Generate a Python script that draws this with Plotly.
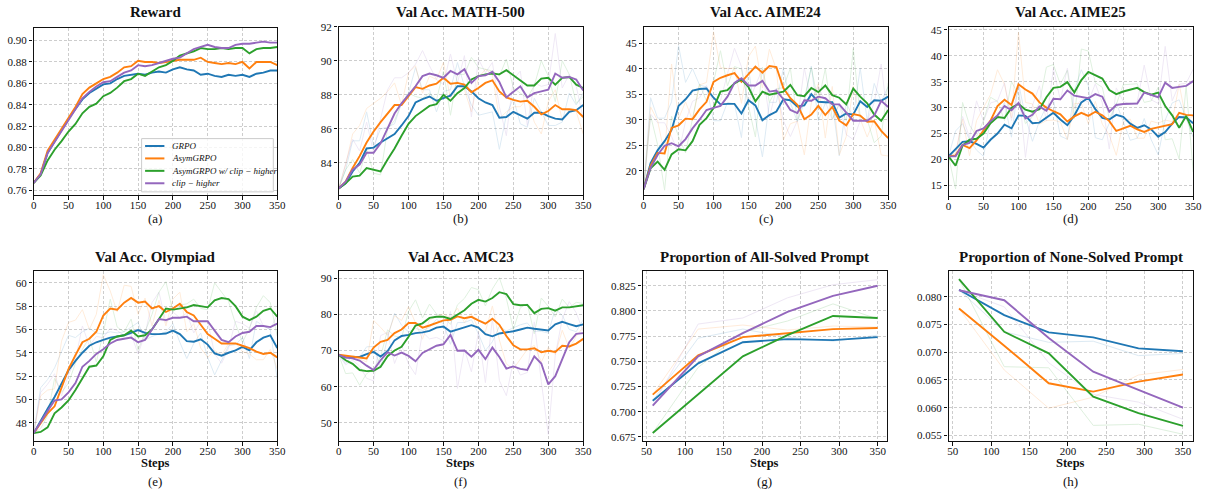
import plotly.graph_objects as go

# ---------------- data ----------------
steps = list(range(0, 351, 10))
prompt_steps = [58, 117, 175, 233, 292, 350]

names = ["GRPO", "AsymGRPO", "AsymGRPO w/ clip − higher", "clip − higher"]
colors = ["#1f77b4", "#ff7f0e", "#2ca02c", "#9467bd"]

# Reward (smoothed)
reward_grpo = [0.767, 0.775, 0.795, 0.806, 0.817, 0.827, 0.836, 0.845, 0.851, 0.855, 0.859, 0.860,
               0.864, 0.867, 0.868, 0.869, 0.868, 0.870, 0.871, 0.870, 0.873, 0.875, 0.873, 0.872,
               0.868, 0.869, 0.867, 0.866, 0.868, 0.867, 0.868, 0.866, 0.869, 0.870, 0.872, 0.872]
reward_asym = [0.767, 0.776, 0.797, 0.807, 0.817, 0.828, 0.838, 0.850, 0.856, 0.860, 0.864, 0.866,
               0.870, 0.875, 0.876, 0.881, 0.880, 0.880, 0.879, 0.880, 0.881, 0.882, 0.882, 0.882,
               0.884, 0.880, 0.879, 0.878, 0.879, 0.878, 0.880, 0.874, 0.880, 0.880, 0.880, 0.877]
reward_asym_clip = [0.767, 0.774, 0.788, 0.798, 0.806, 0.815, 0.822, 0.832, 0.838, 0.841, 0.848, 0.851,
                    0.856, 0.862, 0.864, 0.869, 0.867, 0.871, 0.875, 0.877, 0.881, 0.886, 0.888, 0.890,
                    0.893, 0.892, 0.892, 0.893, 0.892, 0.893, 0.893, 0.888, 0.892, 0.893, 0.893, 0.894]
reward_clip = [0.767, 0.775, 0.795, 0.805, 0.815, 0.826, 0.836, 0.846, 0.852, 0.857, 0.861, 0.862,
               0.866, 0.870, 0.872, 0.877, 0.876, 0.877, 0.879, 0.881, 0.883, 0.884, 0.888, 0.892,
               0.894, 0.896, 0.894, 0.893, 0.893, 0.896, 0.897, 0.897, 0.898, 0.899, 0.898, 0.898]

# MATH-500
math_grpo = [82.5, 82.8, 83.5, 84.0, 84.85, 84.9, 85.2, 85.45, 85.7, 86.2, 86.75, 87.55,
             87.75, 87.9, 87.65, 87.8, 87.95, 88.5, 88.5, 88.2, 87.8, 87.55, 87.4, 86.65,
             86.7, 87.0, 86.8, 86.6, 86.95, 86.95, 86.75, 86.6, 86.55, 87.0, 87.1, 87.4]
math_grpo_raw = [82.5, 83.6, 85.3, 85.3, 87.0, 85.0, 86.0, 86.1, 86.3, 87.5, 88.1, 89.6,
                 88.3, 88.3, 87.0, 88.2, 88.3, 89.9, 88.5, 87.4, 86.8, 86.9, 87.0, 84.8,
                 86.8, 87.8, 86.3, 86.1, 87.8, 87.0, 86.2, 86.2, 86.4, 88.1, 87.4, 88.1]
math_asym = [82.5, 82.9, 83.7, 84.4, 85.2, 85.85, 86.4, 86.9, 87.4, 87.4, 87.95, 88.45,
             88.35, 88.55, 88.65, 89.0, 88.65, 88.7, 88.6, 88.15, 88.4, 88.7, 88.85, 88.2,
             87.85, 87.7, 87.6, 87.65, 87.3, 86.85, 87.05, 87.4, 87.15, 87.15, 87.1, 86.7]
math_asym_raw = [82.5, 83.9, 85.7, 86.2, 87.2, 87.5, 87.8, 88.2, 88.7, 87.4, 89.3, 89.7,
                 88.1, 89.1, 88.9, 89.9, 87.8, 88.8, 88.3, 87.0, 89.0, 89.5, 89.2, 86.6,
                 87.0, 87.3, 87.3, 87.8, 86.4, 85.7, 87.6, 88.3, 86.5, 87.15, 87.0, 85.7]
math_asym_clip = [82.5, 82.8, 83.2, 83.25, 83.7, 83.6, 83.5, 84.2, 84.85, 85.6, 86.3, 86.75,
                  87.05, 87.35, 87.45, 88.0, 87.65, 88.1, 88.4, 88.9, 89.1, 89.2, 89.25, 89.2,
                  89.45, 89.15, 88.85, 88.55, 88.55, 88.95, 89.0, 88.6, 89.0, 89.05, 88.6, 88.4]
math_asym_clip_raw = [82.5, 83.6, 84.2, 83.4, 84.8, 83.4, 83.3, 86.0, 86.5, 87.5, 88.1, 87.9,
                      87.8, 88.1, 87.7, 89.4, 86.8, 89.2, 89.2, 90.2, 89.6, 89.5, 89.4, 89.1,
                      90.1, 88.4, 88.1, 87.8, 88.55, 90.0, 89.1, 87.6, 90.0, 89.2, 87.5, 87.9]
math_clip = [82.5, 82.9, 83.6, 83.9, 84.6, 84.6, 85.15, 86.05, 86.9, 87.5, 88.0, 88.5,
             89.1, 89.25, 89.15, 89.0, 89.4, 89.2, 89.5, 88.7, 89.1, 89.15, 89.35, 88.75,
             87.85, 88.15, 88.5, 87.85, 88.1, 88.2, 88.3, 89.25, 89.0, 89.05, 88.9, 88.25]
math_clip_raw = [82.5, 83.9, 85.4, 84.7, 86.4, 84.6, 86.6, 88.3, 89.0, 89.0, 89.3, 89.8,
                 90.6, 89.7, 88.9, 88.6, 90.4, 88.7, 90.3, 86.7, 90.1, 89.3, 89.9, 87.3,
                 85.6, 88.9, 89.4, 86.2, 88.7, 88.5, 88.6, 91.6, 88.4, 89.2, 88.5, 86.6]

# AIME24
aime24_grpo = [16.4, 21.5, 24.0, 25.8, 28.0, 32.7, 34.0, 35.7, 36.0, 36.1, 34.3, 33.0,
               33.1, 33.1, 31.2, 33.8, 32.8, 29.9, 30.9, 31.6, 34.0, 33.8, 32.6, 32.8,
               35.0, 33.5, 33.4, 33.4, 30.4, 31.2, 31.0, 33.6, 32.5, 33.8, 33.7, 34.5]
aime24_grpo_raw = [16.4, 34.3, 30.3, 30.3, 33.5, 44.5, 37.3, 40.0, 36.8, 36.4, 29.8, 29.8,
                   33.4, 33.1, 26.5, 40.3, 30.3, 22.7, 33.4, 33.4, 40.0, 33.3, 29.6, 33.3,
                   40.5, 29.8, 33.2, 33.4, 22.9, 33.2, 30.5, 40.1, 29.8, 37.1, 33.5, 36.5]
aime24_asym = [16.4, 21.0, 23.5, 23.4, 28.4, 28.9, 30.2, 30.1, 32.0, 33.5, 37.4, 38.2,
               38.7, 39.1, 37.4, 38.8, 40.4, 39.2, 40.5, 40.3, 36.2, 34.2, 32.9, 30.1,
               31.0, 32.7, 30.9, 32.5, 29.8, 28.9, 31.1, 30.8, 29.6, 29.7, 27.8, 26.4]
aime24_asym_raw = [16.4, 32.5, 29.8, 23.2, 40.9, 30.2, 33.5, 29.9, 36.8, 37.3, 47.2, 40.2,
                   40.0, 40.1, 33.2, 42.3, 44.4, 36.2, 43.8, 39.8, 26.0, 29.2, 29.7, 23.1,
                   33.3, 37.0, 26.4, 36.5, 23.1, 26.7, 36.6, 30.1, 26.6, 30.0, 23.1, 22.9]
aime24_asym_clip = [16.4, 20.5, 21.8, 20.2, 23.2, 24.2, 24.0, 25.8, 29.0, 30.3, 32.3, 35.5,
                    35.8, 37.1, 37.9, 36.4, 33.6, 35.5, 34.9, 35.2, 35.5, 36.8, 34.8, 34.6,
                    36.2, 35.4, 36.7, 34.8, 34.3, 33.0, 36.1, 34.5, 33.2, 31.0, 29.8, 31.9]
aime24_asym_clip_raw = [16.4, 30.8, 25.1, 16.2, 30.7, 26.7, 23.5, 30.3, 37.0, 33.6, 37.3, 43.5,
                        36.6, 40.4, 39.9, 32.7, 26.6, 40.3, 33.4, 36.0, 36.3, 40.1, 29.8, 34.1,
                        40.2, 33.4, 40.0, 30.1, 33.1, 29.8, 43.9, 30.5, 30.0, 25.5, 26.8, 37.2]
aime24_clip = [16.4, 20.6, 23.1, 24.9, 25.4, 24.8, 26.2, 28.3, 30.0, 31.9, 32.3, 32.7,
               34.5, 37.2, 38.1, 36.7, 36.7, 37.6, 35.5, 35.7, 34.0, 31.9, 31.3, 33.8,
               33.7, 34.5, 34.2, 33.0, 33.0, 31.3, 29.8, 29.8, 29.8, 30.8, 33.7, 32.5]
aime24_clip_raw = [16.4, 31.1, 29.4, 29.4, 26.7, 23.3, 29.7, 33.6, 34.3, 36.7, 33.3, 33.7,
                   39.0, 44.0, 40.4, 33.2, 36.7, 39.9, 30.3, 36.2, 29.8, 26.7, 29.8, 40.1,
                   33.5, 36.5, 33.5, 30.0, 33.0, 27.1, 26.1, 29.8, 29.8, 33.3, 40.9, 29.5]

# AIME25
aime25_grpo = [20.6, 22.0, 23.4, 23.5, 23.0, 22.3, 23.8, 25.0, 26.7, 26.0, 28.5, 28.4,
               27.0, 27.1, 28.0, 29.0, 27.7, 26.6, 28.5, 31.0, 31.9, 29.7, 28.0, 27.7,
               28.6, 28.2, 26.9, 26.1, 26.6, 25.8, 24.4, 25.3, 26.9, 28.2, 28.1, 27.0]
aime25_grpo_raw = [20.6, 25.5, 26.9, 23.8, 21.8, 20.6, 27.6, 28.0, 31.0, 24.3, 34.8, 28.2,
                   23.5, 27.4, 30.3, 31.5, 24.5, 23.9, 33.3, 37.3, 34.2, 24.2, 23.8, 27.0,
                   30.9, 27.2, 23.7, 24.1, 27.9, 23.8, 20.9, 27.6, 30.9, 31.5, 27.9, 24.3]
aime25_asym = [20.6, 20.8, 22.8, 22.2, 23.7, 25.5, 27.5, 30.3, 31.5, 30.5, 34.5, 33.5,
               32.7, 31.0, 30.0, 29.3, 28.7, 27.3, 28.3, 29.0, 28.4, 29.2, 28.5, 27.4,
               25.5, 26.0, 26.5, 25.8, 25.3, 25.9, 26.2, 26.6, 26.8, 29.0, 28.6, 28.5]
aime25_asym_raw = [20.6, 21.3, 27.8, 20.7, 27.5, 30.0, 32.5, 37.3, 34.5, 28.0, 44.5, 31.0,
                   30.7, 26.8, 27.5, 27.6, 27.2, 23.8, 30.8, 30.8, 26.9, 31.2, 26.8, 24.7,
                   20.8, 27.3, 27.8, 24.1, 24.1, 27.4, 27.0, 27.6, 27.3, 34.5, 27.6, 28.3]
aime25_asym_clip = [20.6, 18.8, 22.7, 23.8, 24.0, 25.0, 27.0, 28.2, 28.0, 30.0, 30.7, 29.6,
                    29.2, 29.7, 32.0, 33.8, 34.0, 34.9, 32.9, 35.3, 36.9, 36.3, 35.6, 33.4,
                    32.6, 33.1, 33.5, 33.8, 33.0, 32.5, 32.9, 30.3, 28.5, 26.1, 28.4, 25.3]
aime25_asym_clip_raw = [20.6, 14.3, 31.0, 26.6, 24.5, 27.5, 32.0, 31.2, 27.5, 35.0, 32.5, 26.9,
                        28.2, 31.0, 37.8, 38.3, 34.5, 37.2, 27.9, 41.3, 40.9, 34.8, 33.9, 27.9,
                        30.6, 34.4, 34.5, 34.6, 31.0, 31.3, 33.9, 23.8, 24.0, 20.1, 34.2, 17.6]
aime25_clip = [20.6, 20.6, 22.8, 23.2, 25.5, 26.0, 27.4, 28.5, 30.3, 29.5, 30.9, 27.9,
               28.6, 30.2, 29.4, 31.7, 31.6, 33.3, 32.3, 32.1, 31.8, 32.6, 32.1, 29.2,
               30.5, 30.7, 30.7, 30.8, 32.9, 32.5, 32.0, 34.8, 33.8, 34.0, 34.2, 35.1]
aime25_clip_raw = [20.6, 20.6, 28.3, 24.2, 31.3, 27.3, 30.9, 31.3, 34.8, 27.5, 34.4, 20.4,
                   30.4, 34.2, 27.4, 37.5, 31.4, 37.6, 29.8, 31.6, 31.1, 34.6, 30.9, 22.0,
                   33.8, 31.2, 30.7, 31.1, 38.2, 31.5, 30.8, 41.8, 31.3, 34.5, 34.7, 37.4]

# Olympiad
olym_grpo = [47.1, 48.2, 49.2, 50.2, 51.3, 52.5, 53.3, 54.0, 54.6, 54.9, 55.1, 55.3,
             55.4, 55.5, 55.7, 55.95, 55.7, 55.6, 55.6, 55.65, 55.9, 55.6, 55.0, 54.95,
             55.15, 54.7, 53.95, 53.75, 54.0, 54.2, 54.5, 54.2, 54.9, 55.3, 55.5, 54.4]
olym_grpo_raw = [47.1, 51.0, 51.7, 52.7, 54.1, 55.5, 55.3, 55.8, 56.1, 55.7, 55.6, 55.8,
                 55.7, 55.8, 56.2, 56.6, 55.1, 55.4, 55.6, 55.8, 56.5, 54.9, 53.5, 54.8,
                 55.7, 53.6, 52.1, 53.3, 54.6, 54.7, 55.3, 53.5, 56.7, 56.3, 56.0, 51.7]
olym_asym = [47.1, 48.0, 48.8, 49.4, 51.0, 52.6, 53.8, 54.9, 55.2, 55.8, 57.2, 57.8,
             57.7, 58.3, 58.7, 58.3, 58.4, 57.8, 58.0, 57.5, 57.8, 58.2, 57.5, 57.2,
             56.4, 55.6, 55.2, 54.8, 54.8, 54.8, 54.6, 54.4, 54.1, 53.9, 54.0, 53.6]
olym_asym_raw = [47.1, 50.3, 50.8, 50.9, 55.0, 56.6, 56.8, 57.7, 56.0, 57.3, 60.7, 59.3,
                 57.5, 59.8, 59.7, 57.3, 58.7, 56.3, 58.5, 56.3, 58.6, 59.2, 55.8, 56.5,
                 54.4, 53.6, 54.2, 53.8, 54.8, 54.8, 54.1, 53.9, 53.4, 53.4, 54.3, 52.6]
olym_asym_clip = [47.1, 47.2, 47.6, 48.8, 49.3, 49.9, 50.8, 51.8, 52.8, 52.9, 53.7, 55.1,
                  55.4, 55.5, 55.9, 55.4, 55.5, 56.0, 56.9, 57.8, 57.7, 57.8, 57.9, 58.1,
                  58.0, 57.9, 58.5, 58.7, 58.6, 58.0, 57.1, 56.8, 57.1, 57.6, 57.8, 57.1]
olym_asym_clip_raw = [47.1, 47.5, 48.6, 51.8, 50.6, 51.4, 53.1, 54.3, 55.3, 53.2, 55.7, 58.6,
                      56.2, 55.8, 56.9, 54.2, 55.8, 57.3, 59.2, 60.1, 57.5, 58.1, 58.2, 58.6,
                      57.8, 57.7, 60.0, 59.2, 58.4, 56.5, 54.9, 56.1, 57.9, 58.9, 58.3, 55.4]
olym_clip = [47.1, 48.1, 49.0, 49.9, 50.0, 50.6, 51.4, 52.8, 53.3, 53.9, 54.3, 54.8,
             55.1, 55.2, 55.3, 54.9, 55.1, 56.0, 56.9, 56.8, 57.0, 57.0, 57.1, 56.7,
             56.7, 56.7, 55.9, 55.1, 54.9, 55.4, 55.7, 55.8, 56.3, 56.3, 56.2, 56.5]
olym_clip_raw = [47.1, 50.6, 51.3, 52.2, 50.3, 52.1, 53.4, 56.3, 54.6, 55.4, 55.3, 56.1,
                 55.9, 55.5, 55.6, 53.9, 55.6, 58.3, 59.2, 56.6, 57.5, 57.0, 57.4, 55.7,
                 56.7, 56.7, 53.9, 53.1, 54.4, 56.7, 56.5, 56.1, 57.6, 56.3, 56.0, 57.3]

# AMC23
amc_grpo = [68.8, 68.1, 68.2, 68.2, 69.0, 69.6, 68.3, 69.8, 72.8, 74.0, 74.3, 74.8,
            75.0, 75.4, 76.3, 76.6, 75.2, 75.9, 76.4, 77.0, 76.3, 74.5, 73.9, 74.7,
            74.9, 75.3, 75.8, 76.3, 76.0, 75.8, 75.5, 77.2, 77.9, 77.3, 76.7, 77.2]
amc_grpo_raw = [68.8, 66.4, 68.5, 68.2, 71.0, 71.1, 65.1, 73.6, 80.3, 77.0, 75.1, 76.1,
                75.5, 76.4, 78.6, 77.4, 71.7, 77.7, 77.7, 78.5, 74.6, 70.0, 72.4, 76.7,
                75.4, 76.3, 77.1, 77.6, 75.3, 75.3, 74.8, 81.5, 79.7, 75.8, 75.2, 78.5]
amc_asym = [68.8, 68.6, 68.4, 68.2, 67.8, 70.8, 72.4, 72.9, 74.8, 75.8, 77.6, 77.6,
            76.3, 76.9, 77.6, 78.3, 78.5, 79.4, 78.9, 79.3, 78.3, 77.4, 78.8, 77.1,
            74.0, 71.4, 70.3, 70.3, 70.6, 69.5, 69.9, 69.6, 71.3, 71.1, 71.9, 73.2]
amc_asym_raw = [68.8, 68.1, 67.9, 67.7, 66.8, 78.3, 76.4, 74.2, 79.6, 78.3, 82.1, 77.6,
                73.1, 78.4, 79.4, 80.1, 79.0, 81.7, 77.7, 80.3, 75.8, 75.2, 82.3, 72.9,
                66.3, 64.9, 67.6, 70.3, 71.4, 66.8, 70.9, 68.9, 75.6, 70.6, 73.9, 76.5]
amc_asym_clip = [68.8, 67.3, 66.3, 64.6, 64.3, 64.4, 65.5, 68.4, 70.0, 71.0, 73.8, 76.9,
                 77.5, 79.0, 79.3, 79.3, 78.7, 79.8, 81.1, 82.9, 84.0, 83.5, 84.5, 86.1,
                 85.6, 82.8, 82.5, 82.6, 80.3, 81.5, 81.7, 81.0, 81.9, 81.9, 82.3, 82.5]
amc_asym_clip_raw = [68.8, 63.6, 63.8, 60.4, 63.6, 64.7, 68.3, 75.7, 74.0, 73.5, 80.8, 84.0,
                     79.0, 82.8, 80.1, 79.3, 77.2, 82.6, 84.4, 87.4, 86.8, 82.3, 87.0, 90.1,
                     84.4, 75.8, 81.8, 82.9, 74.6, 84.5, 82.2, 79.3, 84.2, 81.9, 83.3, 83.0]
amc_clip = [68.8, 68.0, 67.8, 67.2, 65.8, 64.6, 67.3, 69.5, 68.6, 69.4, 68.5, 67.0,
            69.3, 70.4, 71.3, 71.7, 74.3, 69.9, 70.0, 68.3, 70.2, 67.6, 70.8, 68.2,
            65.0, 65.6, 64.9, 64.6, 68.4, 66.4, 60.6, 62.9, 67.4, 72.3, 74.6, 74.8]
amc_clip_raw = [68.8, 66.0, 67.3, 65.7, 62.3, 61.6, 74.1, 75.0, 66.4, 71.4, 66.3, 63.3,
                75.1, 73.2, 73.6, 72.7, 80.8, 59.5, 70.3, 64.1, 75.0, 61.1, 78.8, 61.7,
                57.5, 67.1, 63.2, 63.9, 77.9, 61.4, 46.8, 68.7, 78.7, 83.5, 80.4, 75.3]

# Proportion of All-Solved Prompt
allsolved_grpo = [0.711, 0.748, 0.769, 0.772, 0.771, 0.774]
allsolved_grpo_raw = [0.711, 0.773, 0.782, 0.774, 0.770, 0.776]
allsolved_asym = [0.717, 0.756, 0.774, 0.778, 0.782, 0.783]
allsolved_asym_raw = [0.717, 0.782, 0.786, 0.781, 0.785, 0.784]
allsolved_asym_clip = [0.679, 0.717, 0.755, 0.776, 0.795, 0.793]
allsolved_asym_clip_raw = [0.679, 0.744, 0.779, 0.790, 0.807, 0.792]
allsolved_clip = [0.706, 0.755, 0.778, 0.799, 0.815, 0.825]
allsolved_clip_raw = [0.706, 0.787, 0.793, 0.813, 0.826, 0.831]

# Proportion of None-Solved Prompt
nonesolved_grpo = [0.0813, 0.0767, 0.0736, 0.0727, 0.0707, 0.0702]
nonesolved_grpo_raw = [0.0813, 0.0737, 0.0718, 0.0720, 0.0694, 0.0698]
nonesolved_asym = [0.0779, 0.0712, 0.0644, 0.0629, 0.0647, 0.0660]
nonesolved_asym_raw = [0.0779, 0.0668, 0.0599, 0.0619, 0.0659, 0.0669]
nonesolved_asym_clip = [0.0832, 0.0737, 0.0698, 0.0620, 0.0590, 0.0567]
nonesolved_asym_clip_raw = [0.0832, 0.0674, 0.0672, 0.0568, 0.0570, 0.0552]
nonesolved_clip = [0.0812, 0.0794, 0.0726, 0.0665, 0.0632, 0.0600]
nonesolved_clip_raw = [0.0812, 0.0782, 0.0681, 0.0624, 0.0610, 0.0579]

# tick labels
steps_ticks = [0, 50, 100, 150, 200, 250, 300, 350]
prompt_ticks = [50, 100, 150, 200, 250, 300, 350]
reward_yticks = [0.76, 0.78, 0.80, 0.82, 0.84, 0.86, 0.88, 0.90]
math_yticks = [84, 86, 88, 90, 92]
aime24_yticks = [20, 25, 30, 35, 40, 45]
aime25_yticks = [15, 20, 25, 30, 35, 40, 45]
olym_yticks = [48, 50, 52, 54, 56, 58, 60]
amc_yticks = [50, 60, 70, 80, 90]
allsolved_yticks = [0.675, 0.700, 0.725, 0.750, 0.775, 0.800, 0.825]
nonesolved_yticks = [0.055, 0.060, 0.065, 0.070, 0.075, 0.080]

# ---------------- layout ----------------
W, H = 1217, 497
SERIF = "Liberation Serif, Times New Roman, serif"
INK = "#111111"

panels = [
    dict(title="Reward", label="(a)", xpx=(31, 277), ypx=(22, 192),
         xr=[0, 350], yr=[0.7554, 0.912], xt=steps_ticks, yt=reward_yticks, yf=".2f",
         x=steps, s=[reward_grpo, reward_asym, reward_asym_clip, reward_clip], raw=None),
    dict(title="Val Acc. MATH-500", label="(b)", xpx=(339, 586), ypx=(21, 192),
         xr=[0, 350], yr=[82.1, 92], xt=steps_ticks, yt=math_yticks, yf="d",
         x=steps, s=[math_grpo, math_asym, math_asym_clip, math_clip],
         raw=[math_grpo_raw, math_asym_raw, math_asym_clip_raw, math_clip_raw]),
    dict(title="Val Acc. AIME24", label="(c)", xpx=(647, 894), ypx=(21, 192),
         xr=[0, 350], yr=[15.2, 48.2], xt=steps_ticks, yt=aime24_yticks, yf="d",
         x=steps, s=[aime24_grpo, aime24_asym, aime24_asym_clip, aime24_clip],
         raw=[aime24_grpo_raw, aime24_asym_raw, aime24_asym_clip_raw, aime24_clip_raw]),
    dict(title="Val Acc. AIME25", label="(d)", xpx=(955, 1202), ypx=(21.5, 192.5),
         xr=[0, 350], yr=[13.0, 45.5], xt=steps_ticks, yt=aime25_yticks, yf="d",
         x=steps, s=[aime25_grpo, aime25_asym, aime25_asym_clip, aime25_clip],
         raw=[aime25_grpo_raw, aime25_asym_raw, aime25_asym_clip_raw, aime25_clip_raw]),
    dict(title="Val Acc. Olympiad", label="(e)", xpx=(31, 277), ypx=(269, 441.5),
         xr=[0, 350], yr=[46.4, 61.0], xt=steps_ticks, yt=olym_yticks, yf="d",
         x=steps, s=[olym_grpo, olym_asym, olym_asym_clip, olym_clip],
         raw=[olym_grpo_raw, olym_asym_raw, olym_asym_clip_raw, olym_clip_raw]),
    dict(title="Val Acc. AMC23", label="(f)", xpx=(339, 586), ypx=(269, 441.5),
         xr=[0, 350], yr=[44.9, 91.9], xt=steps_ticks, yt=amc_yticks, yf="d",
         x=steps, s=[amc_grpo, amc_asym, amc_asym_clip, amc_clip],
         raw=[amc_grpo_raw, amc_asym_raw, amc_asym_clip_raw, amc_clip_raw]),
    dict(title="Proportion of All-Solved Prompt", label="(g)", xpx=(646, 893), ypx=(269, 441.5),
         xr=[44.9, 362.4], yr=[0.6707, 0.8394], xt=prompt_ticks, yt=allsolved_yticks, yf=".3f",
         x=prompt_steps, s=[allsolved_grpo, allsolved_asym, allsolved_asym_clip, allsolved_clip],
         raw=[allsolved_grpo_raw, allsolved_asym_raw, allsolved_asym_clip_raw, allsolved_clip_raw]),
    dict(title="Proportion of None-Solved Prompt", label="(h)", xpx=(955, 1202), ypx=(269, 441.5),
         xr=[44.4, 363.3], yr=[0.05393, 0.08464], xt=prompt_ticks, yt=nonesolved_yticks, yf=".3f",
         x=prompt_steps, s=[nonesolved_grpo, nonesolved_asym, nonesolved_asym_clip, nonesolved_clip],
         raw=[nonesolved_grpo_raw, nonesolved_asym_raw, nonesolved_asym_clip_raw, nonesolved_clip_raw]),
]

fig = go.Figure()
layout = dict(
    width=W, height=H, margin=dict(l=0, r=0, t=0, b=0), autosize=False,
    paper_bgcolor="white", plot_bgcolor="white",
    font=dict(family=SERIF, size=11, color=INK),
    showlegend=False,
)
annotations = []
shapes = []


def px_x(v):
    return v / W


def px_y(v):
    return 1 - v / H


for i, p in enumerate(panels):
    for arr in p["s"] + (p["raw"] or []):
        assert len(arr) == len(p["x"]), (p["title"], len(arr))
    k = "" if i == 0 else str(i + 1)
    xa, ya = "x" + k, "y" + k
    if p["raw"]:
        for j in range(4):
            fig.add_trace(go.Scatter(x=p["x"], y=p["raw"][j], mode="lines", xaxis=xa, yaxis=ya,
                                     line=dict(color=colors[j], width=1), opacity=0.15,
                                     showlegend=False, hoverinfo="skip"))
    for j in range(4):
        fig.add_trace(go.Scatter(x=p["x"], y=p["s"][j], mode="lines", xaxis=xa, yaxis=ya,
                                 line=dict(color=colors[j], width=1.9),
                                 name=names[j], showlegend=False, hoverinfo="skip"))
    x0, x1 = p["xpx"]
    yt, yb = p["ypx"]
    common = dict(showline=True, linecolor=INK, linewidth=1.4, mirror=True,
                  ticks="outside", ticklen=3.5, tickwidth=1, tickcolor=INK,
                  showgrid=True, gridcolor="#cdcdcd", gridwidth=0.8, griddash="3px,2px",
                  zeroline=False, tickfont=dict(family=SERIF, size=11, color=INK))
    layout["xaxis" + k] = dict(domain=[px_x(x0), px_x(x1)], anchor=ya, range=p["xr"],
                               tickvals=p["xt"], ticklabelstandoff=-4, **common)
    layout["yaxis" + k] = dict(domain=[px_y(yb), px_y(yt)], anchor=xa, range=p["yr"],
                               tickvals=p["yt"], tickformat=p["yf"], **common)
    cx = px_x((x0 + x1) / 2)
    row2 = i >= 4
    annotations.append(dict(text="<b>" + p["title"] + "</b>", x=cx, y=px_y(254.5 if row2 else 6),
                            xref="paper", yref="paper", showarrow=False, xanchor="center",
                            yanchor="middle", font=dict(family=SERIF, size=15, color=INK)))
    annotations.append(dict(text=p["label"], x=cx, y=px_y(482.5 if row2 else 216),
                            xref="paper", yref="paper", showarrow=False, xanchor="center",
                            yanchor="middle", font=dict(family=SERIF, size=13, color=INK)))
    if row2:
        annotations.append(dict(text="<b>Steps</b>", x=cx, y=px_y(463.5),
                                xref="paper", yref="paper", showarrow=False, xanchor="center",
                                yanchor="middle", borderpad=0,
                                font=dict(family=SERIF, size=12.5, color=INK)))

# legend box in the Reward panel (lower right), matplotlib style
leg_l, leg_t, leg_r, leg_b = 140, 134.5, 273, 188.5
shapes.append(dict(type="rect", xref="paper", yref="paper",
                   x0=px_x(leg_l), x1=px_x(leg_r), y0=px_y(leg_b), y1=px_y(leg_t),
                   line=dict(color="#cccccc", width=1), fillcolor="rgba(255,255,255,0.8)",
                   layer="above"))
for j in range(4):
    yy = 142 + 12.6 * j
    shapes.append(dict(type="line", xref="paper", yref="paper",
                       x0=px_x(143.5), x1=px_x(163), y0=px_y(yy), y1=px_y(yy),
                       line=dict(color=colors[j], width=2), layer="above"))
    annotations.append(dict(text="<i>" + names[j] + "</i>", x=px_x(169), y=px_y(yy),
                            xref="paper", yref="paper", showarrow=False, xanchor="left",
                            yanchor="middle", font=dict(family=SERIF, size=9, color=INK)))

layout["annotations"] = annotations
layout["shapes"] = shapes
fig.update_layout(**layout)
fig.write_html("out.html",
               config={"displayModeBar": False},
               post_script="document.body.style.margin='0px';"
                           "document.body.style.overflow='hidden';")
